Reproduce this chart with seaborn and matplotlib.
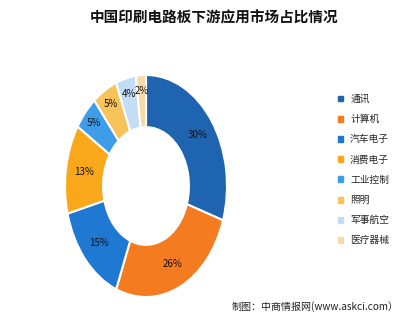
import matplotlib
matplotlib.use("Agg")
import matplotlib.pyplot as plt
import seaborn as sns
import numpy as np

categories = ["通讯", "计算机", "汽车电子", "消费电子", "工业控制", "照明", "军事航空", "医疗器械"]
values = [30, 26, 15, 13, 5, 5, 4, 2]
labels = ["30%", "26%", "15%", "13%", "5%", "5%", "4%", "2%"]
colors = ["#1F64B0", "#F47B20", "#1F78D2", "#F9A71B", "#3E9DE9", "#F9C35C", "#C4DDF6", "#F8D9A8"]

sns.set_theme(style="white")
plt.rcParams['font.family'] = ['Noto Sans CJK SC', 'DejaVu Sans']

fig = plt.figure(figsize=(4.15, 3.25), dpi=100)
fig.patch.set_facecolor("white")

ax = fig.add_axes([146/415 - 81/415, 1 - 186/325 - 111/325, 162/415, 222/325])
pal = sns.color_palette(colors)
wedges, texts = ax.pie(values, colors=pal, startangle=90, counterclock=False,
                       radius=1.0,
                       wedgeprops=dict(width=0.47, edgecolor="white", linewidth=1.5))
cum = np.cumsum([0] + values)
total = sum(values)
for i, lab in enumerate(labels):
    mid = 90 - (cum[i] + values[i] / 2) / total * 360
    r = 0.86 if values[i] <= 5 else 0.78
    ax.text(r * np.cos(np.radians(mid)), r * np.sin(np.radians(mid)), lab,
            ha="center", va="center", fontsize=7, color="#111111")
ax.set_aspect("auto")
ax.set_xlim(-1, 1)
ax.set_ylim(-1, 1)
ax.axis("off")

fig.text(214/415, 1 - 17/325, "中国印刷电路板下游应用市场占比情况", ha="center", va="center",
         fontsize=10.5, fontweight="bold", color="#111111")

handles = [plt.Rectangle((0, 0), 1, 1, color=c) for c in colors]
leg = fig.legend(handles, categories, loc="upper left", bbox_to_anchor=(338/415, 1 - 94/325),
                 frameon=False, fontsize=7, handlelength=0.55, handleheight=0.55,
                 handletextpad=0.7, labelspacing=1.05, borderaxespad=0, borderpad=0)

fig.text(232/415, 1 - 307/325, "制图：中商情报网(www.askci.com）", ha="left", va="center",
         fontsize=7.2, color="#222222")

fig.savefig("out.png", dpi=100)
